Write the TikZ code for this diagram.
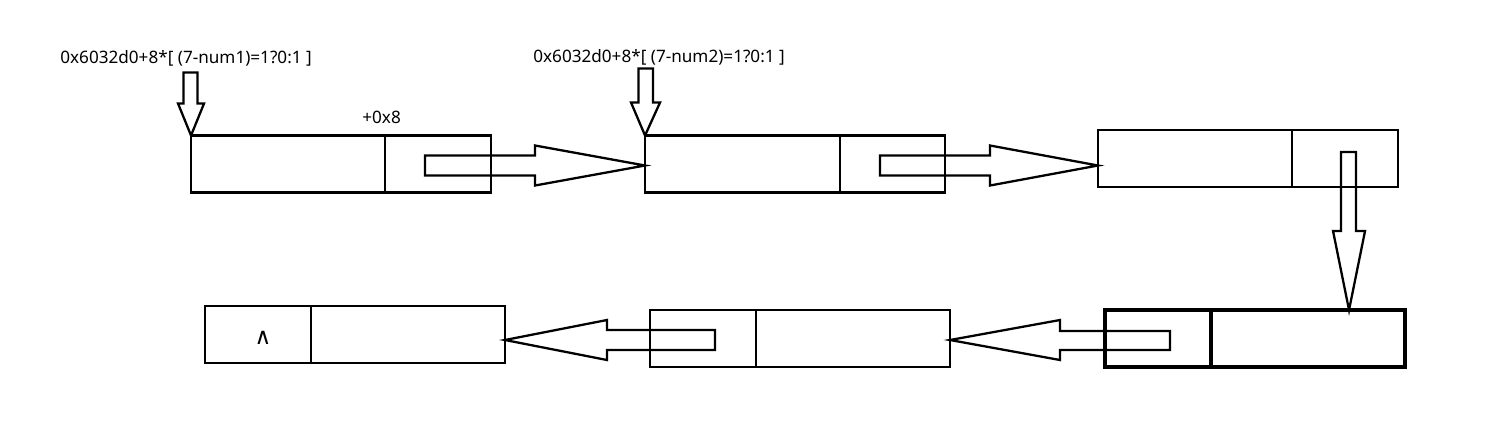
\documentclass[tikz,border=0pt]{standalone}
\usepackage{fontspec}
\setmainfont{Noto Sans}
\newfontfamily\symfont{DejaVu Sans}
\usetikzlibrary{calc}
\begin{document}
\begin{tikzpicture}[x=0.02cm,y=-0.02cm,
  cell/.style={draw, line width=1.3pt, minimum width=6cm, minimum height=1.14cm, inner sep=0pt, outer sep=0pt},
  thickcell/.style={cell, line width=1.8pt},
  blockarrow/.style={draw, line width=1.3pt, line join=miter},
  lbl/.style={anchor=west, inner sep=0pt, font=\fontsize{9.75}{11}\selectfont}]
\useasboundingbox (0,0) rectangle (1491,437);
% boxes
\node[cell] (b1) at (341,164) {};
\node[cell] (b2) at (795,164) {};
\node[cell] (b3) at (1248,158.5) {};
\node[thickcell] (b4) at (1255,338.5) {};
\node[cell] (b5) at (800,338.5) {};
\node[cell] (b6) at (355,334.5) {};
% dividers
\draw[line width=1.3pt] ($(b1.north west)+(194,0)$) -- ($(b1.south west)+(194,0)$);
\draw[line width=1.3pt] ($(b2.north west)+(195,0)$) -- ($(b2.south west)+(195,0)$);
\draw[line width=1.3pt] ($(b3.north west)+(194,0)$) -- ($(b3.south west)+(194,0)$);
\draw[line width=1.8pt] ($(b4.north west)+(106,0)$) -- ($(b4.south west)+(106,0)$);
\draw[line width=1.3pt] ($(b5.north west)+(106,0)$) -- ($(b5.south west)+(106,0)$);
\draw[line width=1.3pt] ($(b6.north west)+(106,0)$) -- ($(b6.south west)+(106,0)$);
% labels
\node[lbl] (l1) at (60,58) {0x6032d0+8*[ (7-num1)=1?0:1 ]};
\node[lbl] (l2) at (533,57) {0x6032d0+8*[ (7-num2)=1?0:1 ]};
\node[lbl] (l3) at (362,117) {+0x8};
\node[inner sep=0pt, font=\symfont\fontsize{13}{14}\selectfont] (nil) at (263,338) {∧};
% pointer arrows from labels
\draw[blockarrow] (b1.north west) -- ++(-13,-32) -- ++(5.5,0) -- ++(0,-31) -- ++(14,0) -- ++(0,31) -- ++(6.5,0) -- cycle;
\draw[blockarrow] (b2.north west) -- ++(-14,-33) -- ++(7.5,0) -- ++(0,-34) -- ++(14.5,0) -- ++(0,34) -- ++(7,0) -- cycle;
% next-pointer arrows
\coordinate (t1) at ($(b2.west)+(0,1.5)$);
\draw[blockarrow] (t1) -- ++(-110,-20) -- ++(0,10) -- ++(-110,0) -- ++(0,20) -- ++(110,0) -- ++(0,10) -- cycle;
\coordinate (t2) at (b3.west|-t1);
\draw[blockarrow] (t2) -- ++(-108,-20) -- ++(0,10) -- ++(-110,0) -- ++(0,20) -- ++(110,0) -- ++(0,10) -- cycle;
\coordinate (t3) at ($(b4.north west)+(244,0)$);
\draw[blockarrow] (t3) -- ++(-16,-79) -- ++(8,0) -- ++(0,-79) -- ++(15,0) -- ++(0,79) -- ++(9,0) -- cycle;
\coordinate (t4) at ($(b5.east)+(0,1.5)$);
\draw[blockarrow] (t4) -- ++(110,-20) -- ++(0,11) -- ++(110,0) -- ++(0,19) -- ++(-110,0) -- ++(0,10) -- cycle;
\coordinate (t5) at (b6.east|-t4);
\draw[blockarrow] (t5) -- ++(102,-20) -- ++(0,10) -- ++(108,0) -- ++(0,20) -- ++(-108,0) -- ++(0,10) -- cycle;
\end{tikzpicture}
\end{document}
